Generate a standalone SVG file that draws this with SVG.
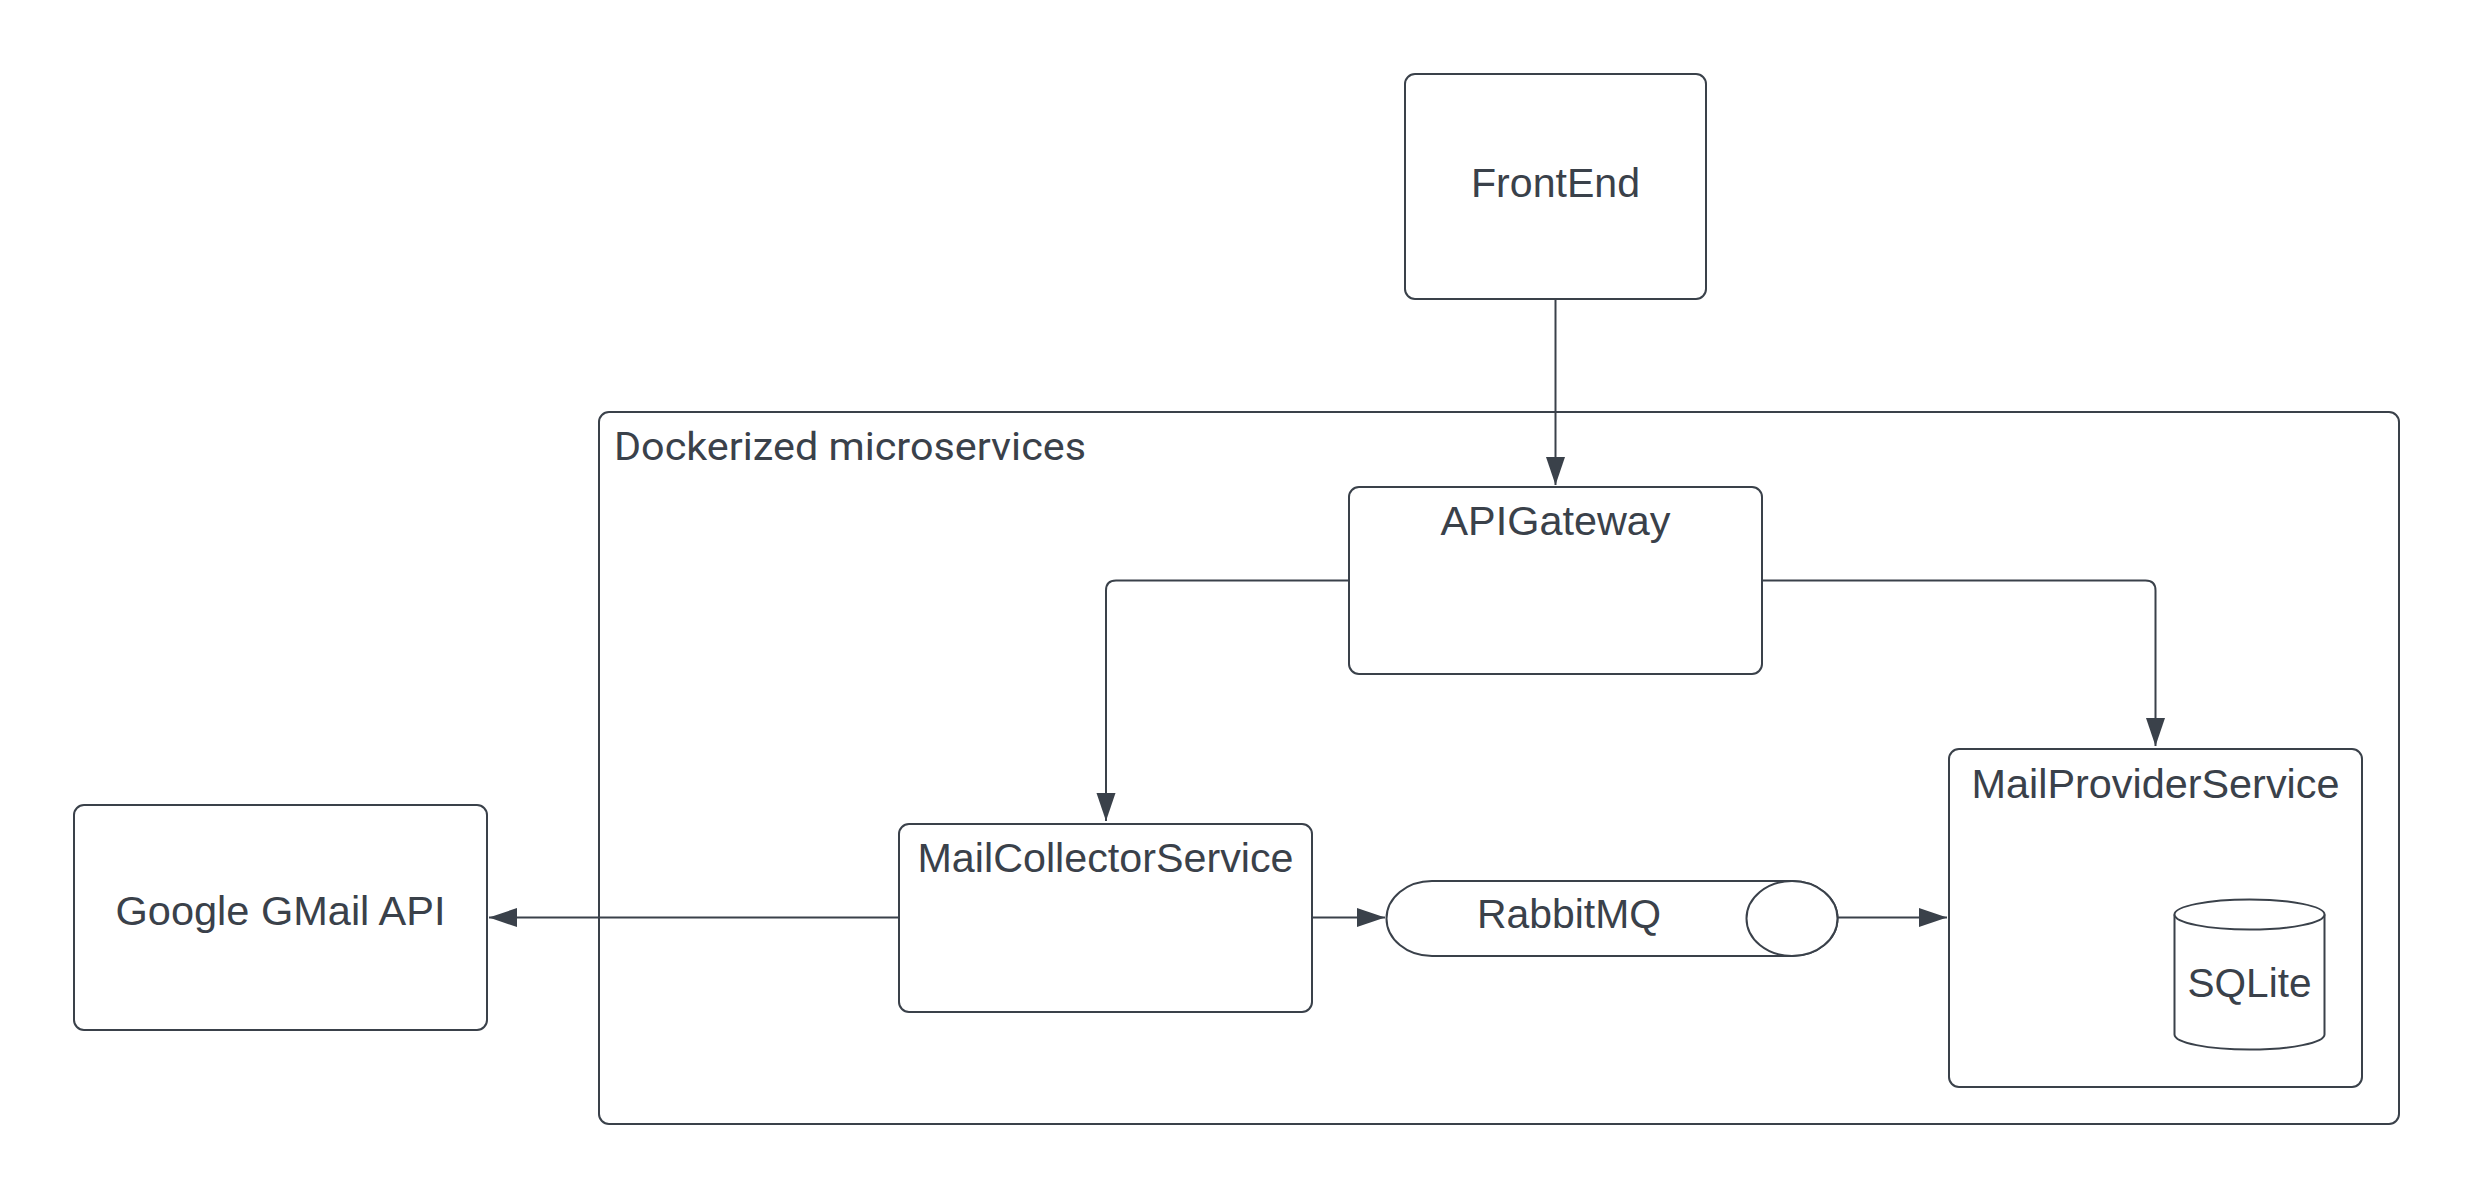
<svg xmlns="http://www.w3.org/2000/svg" width="2475" height="1200" viewBox="0 0 2475 1200">
<style>
.box{fill:#ffffff;stroke:#3a414a;stroke-width:2}
.lbl{font-family:"Liberation Sans",Arial,sans-serif;font-size:41px;fill:#3a414a;text-anchor:middle}
.edge{fill:none;stroke:#3a414a;stroke-width:2}
</style>
<defs>
<marker id="arr" markerUnits="userSpaceOnUse" markerWidth="30" markerHeight="20" refX="28" refY="9.5" orient="auto">
<path d="M0,0 L28,9.5 L0,19 Z" fill="#3a414a"/>
</marker>
</defs>
<rect width="2475" height="1200" fill="#ffffff"/>
<g id="container">
<rect class="box" x="599" y="412" width="1800" height="712" rx="10"/>
<text x="614" y="460" style="font-family:Roboto,'Liberation Sans',sans-serif;font-size:38px;fill:#3a414a" textLength="472" lengthAdjust="spacingAndGlyphs">Dockerized microservices</text>
</g>
<g id="frontend">
<rect class="box" x="1405" y="74" width="301" height="225" rx="10"/>
<text class="lbl" x="1555.5" y="197" textLength="169" lengthAdjust="spacingAndGlyphs">FrontEnd</text>
</g>
<g id="apigateway">
<rect class="box" x="1349" y="487" width="413" height="187" rx="10"/>
<text class="lbl" x="1555.5" y="535" textLength="230" lengthAdjust="spacingAndGlyphs">APIGateway</text>
</g>
<g id="gmail">
<rect class="box" x="74" y="805" width="413" height="225" rx="10"/>
<text class="lbl" x="280.5" y="925" textLength="330" lengthAdjust="spacingAndGlyphs">Google GMail API</text>
</g>
<g id="mailcollector">
<rect class="box" x="899" y="824" width="413" height="188" rx="10"/>
<text class="lbl" x="1105.5" y="872" textLength="376" lengthAdjust="spacingAndGlyphs">MailCollectorService</text>
</g>
<g id="rabbitmq">
<path class="box" d="M1432,881 L1792,881 A45.5,37.5 0 0 1 1792,956 L1432,956 A45.5,37.5 0 0 1 1432,881 Z"/>
<ellipse class="box" cx="1792" cy="918.5" rx="45.5" ry="37.5"/>
<text class="lbl" x="1569" y="928" textLength="184" lengthAdjust="spacingAndGlyphs">RabbitMQ</text>
</g>
<g id="mailprovider">
<rect class="box" x="1949" y="749" width="413" height="338" rx="10"/>
<text class="lbl" x="2155.5" y="798" textLength="368" lengthAdjust="spacingAndGlyphs">MailProviderService</text>
</g>
<g id="sqlite">
<path class="box" d="M2174.5,914.5 L2174.5,1034.5 A75,15 0 0 0 2324.5,1034.5 L2324.5,914.5"/>
<ellipse class="box" cx="2249.5" cy="914.5" rx="75" ry="15"/>
<text class="lbl" x="2249.5" y="997" textLength="124" lengthAdjust="spacingAndGlyphs">SQLite</text>
</g>
<g id="connectors">
<path class="edge" d="M1555.5,299 L1555.5,485" marker-end="url(#arr)"/>
<path class="edge" d="M1349,580.5 L1116,580.5 Q1106,580.5 1106,590.5 L1106,821" marker-end="url(#arr)"/>
<path class="edge" d="M1762,580.5 L2145.5,580.5 Q2155.5,580.5 2155.5,590.5 L2155.5,746" marker-end="url(#arr)"/>
<path class="edge" d="M899,917.5 L489,917.5" marker-end="url(#arr)"/>
<path class="edge" d="M1312,917.5 L1385,917.5" marker-end="url(#arr)"/>
<path class="edge" d="M1837.5,917.5 L1947,917.5" marker-end="url(#arr)"/>
</g>
</svg>
